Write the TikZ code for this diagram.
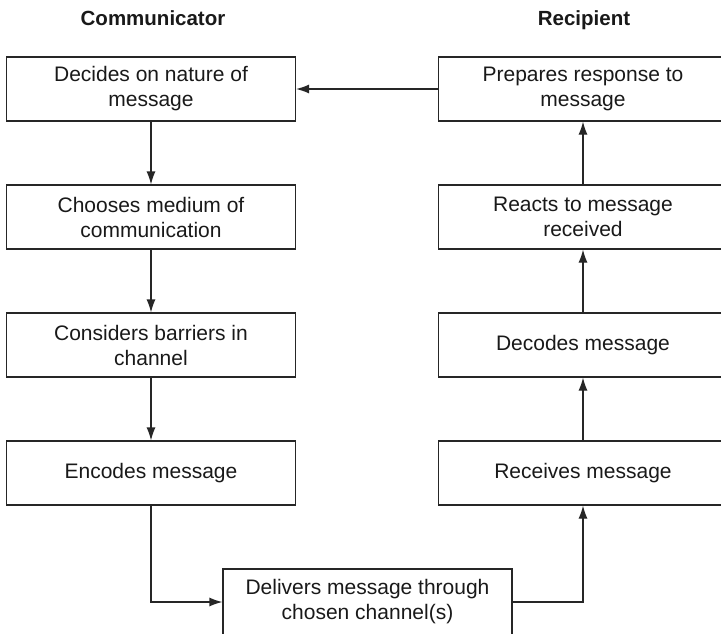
\documentclass[tikz,border=0pt]{standalone}
\usepackage{fontspec}
\setmainfont{Liberation Sans}
\usetikzlibrary{arrows.meta}
\begin{document}
\begin{tikzpicture}[x=1pt,y=-1pt,
  box/.style={draw=black!85, line width=1.2pt, minimum width=289pt, minimum height=64pt,
    align=center, font=\fontsize{21}{25}\selectfont, text=black!90, inner sep=0pt},
  head/.style={font=\fontsize{20.5}{25}\selectfont\bfseries, text=black!90, anchor=base},
  conn/.style={draw=black!85, line width=1.2pt, -{Latex[length=13pt,width=9pt]}}]
\useasboundingbox (0,0) rectangle (721,633);
\clip (0,0) rectangle (721,633);
\node[head] (hc) at (153,25) {Communicator};
\node[head] (hr) at (584,25) {Recipient};
\node[box] (l1) at (151,89) {Decides on nature of\\message};
\node[box] (l2) at (151,217) {Chooses medium of\\communication};
\node[box] (l3) at (151,345) {Considers barriers in\\channel};
\node[box] (l4) at (151,473) {Encodes message};
\node[box] (r1) at (583,89) {Prepares response to\\message};
\node[box] (r2) at (583,217) {Reacts to message\\received};
\node[box] (r3) at (583,345) {Decodes message};
\node[box] (r4) at (583,473) {Receives message};
\node[box, minimum height=66pt] (bt) at (367.5,602) {Delivers message through\\chosen channel(s)};
\draw[conn] (r1.west) -- (l1.east);
\draw[conn] (l1.south) -- (l2.north);
\draw[conn] (l2.south) -- (l3.north);
\draw[conn] (l3.south) -- (l4.north);
\draw[conn] (l4.south) |- (bt.west);
\draw[conn] (bt.east) -| (r4.south);
\draw[conn] (r4.north) -- (r3.south);
\draw[conn] (r3.north) -- (r2.south);
\draw[conn] (r2.north) -- (r1.south);
\end{tikzpicture}
\end{document}
